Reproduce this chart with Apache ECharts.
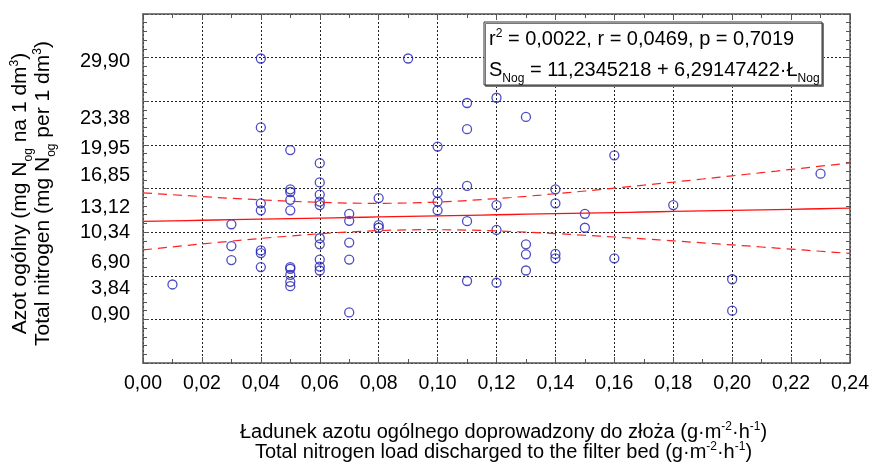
<!DOCTYPE html>
<html>
<head>
<meta charset="utf-8">
<script src="https://cdn.jsdelivr.net/npm/echarts@6/dist/echarts.min.js"></script>
<style>
  html, body { margin: 0; padding: 0; background: #fff; }
  #main { width: 873px; height: 462px; }
</style>
</head>
<body>
<div id="main"></div>
<script>
// nitrogen load (x) and total nitrogen concentration (y)
const loads = [
  0.01,
  0.03, 0.03, 0.03,
  0.04, 0.04, 0.04, 0.04, 0.04, 0.04, 0.04,
  0.05, 0.05, 0.05, 0.05, 0.05, 0.05, 0.05, 0.05, 0.05, 0.05,
  0.06, 0.06, 0.06, 0.06, 0.06, 0.06, 0.06, 0.06, 0.06, 0.06,
  0.07, 0.07, 0.07, 0.07, 0.07,
  0.08, 0.08, 0.08,
  0.09,
  0.10, 0.10, 0.10, 0.10,
  0.11, 0.11, 0.11, 0.11, 0.11,
  0.12, 0.12, 0.12, 0.12,
  0.13, 0.13, 0.13, 0.13,
  0.14, 0.14, 0.14, 0.14,
  0.15, 0.15,
  0.16, 0.16,
  0.18,
  0.20, 0.20,
  0.23
];
const nitrogen = [
  4.0,
  10.9, 8.4, 6.8,
  29.9, 22.0, 13.3, 12.5, 7.9, 7.6, 6.0,
  19.4, 14.9, 14.6, 13.7, 12.5, 6.0, 5.8, 5.1, 4.3, 3.8,
  17.9, 15.7, 14.3, 13.5, 13.1, 9.3, 8.6, 6.85, 6.05, 5.6,
  12.1, 11.3, 8.8, 6.85, 0.8,
  13.9, 10.8, 10.5,
  29.9,
  19.8, 14.5, 13.5, 12.5,
  24.8, 21.8, 15.3, 11.25, 4.4,
  25.4, 13.1, 10.25, 4.2,
  23.2, 8.6, 7.45, 5.6,
  14.9, 13.3, 7.5, 7.0,
  12.1, 10.5,
  18.8, 7.0,
  13.1,
  4.6, 1.0,
  16.7
];
const yTickLabels = [0.90, 3.84, 6.90, 10.34, 13.12, 16.85, 19.95, 23.38, 29.90];
const intercept = 11.2345218;
const slope = 6.29147422;

const points = loads.map((x, i) => [x, nitrogen[i]]);

// fitted line and 95% confidence band of the mean
const n = loads.length;
const xMean = loads.reduce((a, b) => a + b, 0) / n;
const sxx = loads.reduce((a, x) => a + (x - xMean) * (x - xMean), 0);
const sse = points.reduce((a, p) => {
  const r = p[1] - (intercept + slope * p[0]);
  return a + r * r;
}, 0);
const s = Math.sqrt(sse / (n - 2));
const tCrit = 1.996;
const fitLine = [], upper = [], lower = [];
for (let k = 0; k <= 48; k++) {
  const x = k * 0.005;
  const y = intercept + slope * x;
  const h = tCrit * s * Math.sqrt(1 / n + (x - xMean) * (x - xMean) / sxx);
  fitLine.push([x, y]);
  upper.push([x, y + h]);
  lower.push([x, y - h]);
}

const FONT = "'Liberation Sans', Arial, sans-serif";
const comma = (v) => v.toFixed(2).replace('.', ',');

// rich styles: main text + raised / lowered small tokens
function makeRich(size, lh) {
  return {
    a: { fontFamily: FONT, fontSize: size, color: '#000', lineHeight: lh },
    sup: { fontFamily: FONT, fontSize: 12, color: '#000', lineHeight: 4, padding: [0, 0, 11, 0] },
    sub: { fontFamily: FONT, fontSize: 12, color: '#000', lineHeight: 4, padding: [16, 0, 0, 0] }
  };
}
const frame = { show: true, onZero: false, lineStyle: { color: '#555', width: 1.5 } };
const grid = { show: true, lineStyle: { color: '#222', width: 1, type: [2, 2] } };
const tick = { show: true, inside: true, length: 6, lineStyle: { color: '#555' } };

let myChart = echarts.init(document.getElementById('main'));

let options = {
  animation: false,
  backgroundColor: '#fff',
  grid: { left: 143, right: 23, top: 14, bottom: 99, outerBoundsMode: 'none' },
  xAxis: [
    {
      type: 'value', min: 0, max: 0.24, interval: 0.02,
      axisLine: frame, axisTick: tick,
      minorTick: { show: true, splitNumber: 2, length: 4, lineStyle: { color: '#555' } },
      splitLine: grid,
      axisLabel: { fontFamily: FONT, fontSize: 19.5, color: '#000', margin: 11, formatter: comma },
      name: '{a|Ładunek azotu ogólnego doprowadzony do złoża (g·m}{sup|-2}{a|·h}{sup|-1}{a|)}\n' +
            '{a|Total nitrogen load discharged to the filter bed (g·m}{sup|-2}{a|·h}{sup|-1}{a|)}',
      nameLocation: 'middle', nameGap: 59,
      nameTextStyle: { rich: makeRich(20, 20), padding: [0, 0, 0, 14] }
    },
    {
      type: 'value', min: 0, max: 0.24, interval: 0.02, position: 'top',
      axisLine: frame, axisTick: tick,
      minorTick: { show: true, splitNumber: 2, length: 4, lineStyle: { color: '#555' } },
      splitLine: { show: false },
      axisLabel: { show: false }
    }
  ],
  yAxis: [
    {
      type: 'value', min: -5, max: 35, interval: 5,
      axisLine: frame, axisTick: tick,
      minorTick: { show: true, splitNumber: 5, length: 4, lineStyle: { color: '#555' } },
      splitLine: grid,
      axisLabel: {
        fontFamily: FONT, fontSize: 20, color: '#000', margin: 13,
        verticalAlign: 'top', lineHeight: 6,
        customValues: yTickLabels, formatter: comma
      },
      name: '{a|Azot ogólny (mg N}{sub|og}{a| na 1 dm}{sup|3}{a|)}\n' +
            '{a|Total nitrogen (mg N}{sub|og}{a| per 1 dm}{sup|3}{a|)}',
      nameLocation: 'middle', nameGap: 88,
      nameTextStyle: { rich: makeRich(21, 23), padding: [0, 10, 0, 0] }
    },
    {
      type: 'value', min: -5, max: 35, interval: 5, position: 'right',
      axisLine: frame, axisTick: tick,
      minorTick: { show: true, splitNumber: 5, length: 4, lineStyle: { color: '#555' } },
      splitLine: { show: false },
      axisLabel: { show: false }
    }
  ],
  series: [
    {
      type: 'line', data: upper, symbol: 'none', silent: true,
      lineStyle: { color: '#ff2020', width: 1.2, type: [9, 6] }
    },
    {
      type: 'line', data: lower, symbol: 'none', silent: true,
      lineStyle: { color: '#ff2020', width: 1.2, type: [9, 6] }
    },
    {
      type: 'line', data: fitLine, symbol: 'none', silent: true,
      lineStyle: { color: '#ff1010', width: 1.3 }
    },
    {
      type: 'scatter', data: points, symbol: 'circle', symbolSize: 9,
      itemStyle: { color: 'rgba(255,255,255,0)', borderColor: '#1f1fb4', borderWidth: 1.3 }
    }
  ],
  graphic: [
    {
      type: 'rect', z: 100,
      shape: { x: 484, y: 22, width: 338, height: 63 },
      style: { fill: '#fff', stroke: '#333', lineWidth: 1,
               shadowColor: '#777', shadowOffsetX: 1.5, shadowOffsetY: 1.5 }
    },
    {
      type: 'text', z: 101, x: 489, y: 55,
      style: {
        text: '{a|r}{sup|2}{a| = 0,0022, r = 0,0469, p = 0,7019}\n' +
              '{a|S}{sub|Nog}{a| = 11,2345218 + 6,29147422·Ł}{sub|Nog}',
        verticalAlign: 'middle', align: 'left',
        rich: makeRich(20, 31)
      }
    }
  ]
};

myChart.setOption(options);
</script>
</body>
</html>
